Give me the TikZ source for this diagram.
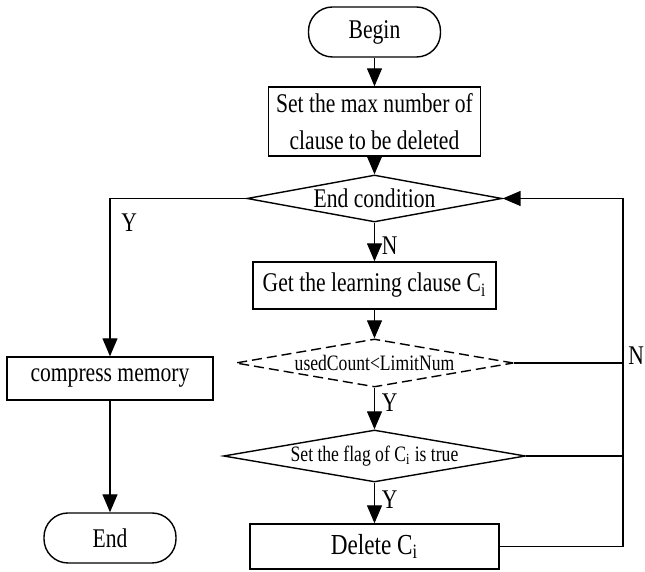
\documentclass[tikz,border=0pt]{standalone}
\usepackage{fontspec}
\setmainfont{Liberation Serif}[FakeStretch=0.8]
\usepackage{tikz}
\usetikzlibrary{arrows.meta,shapes.geometric}
\newcommand\flowfont{\fontsize{13.5}{18.5}\selectfont}
\newcommand\condfont{\fontsize{11}{13}\selectfont}

\begin{document}
\begin{tikzpicture}[x=0.5pt, y=-0.5pt, line width=0.7pt,
  term/.style={draw, rounded corners=12pt, minimum width=66pt, minimum height=25pt, font=\flowfont},
  proc/.style={draw, inner sep=0pt, font=\flowfont, align=center},
  cond/.style={draw, diamond, aspect=5.5, inner sep=0pt, font=\flowfont},
  arr/.style={-{Triangle[length=9pt,width=7.5pt]}},
  lbl/.style={font=\flowfont}
]
\useasboundingbox (0,0) rectangle (645,572);

% ---- main column ----
\node[term] (begin) at (374.5,32) {Begin};
\node[proc, minimum width=106pt, minimum height=34.5pt] (setmax) at (374.5,121.5) {Set the max number of\\clause to be deleted};
\node[cond, minimum width=127.5pt, minimum height=23.5pt] (endc) at (374.5,198.5) {End condition};
\node[proc, minimum width=121.5pt, minimum height=23.5pt] (getc) at (374.5,285.5) {Get the learning clause C\textsubscript{i}};
\node[cond, dashed, dash pattern=on 5pt off 2.5pt, minimum width=139pt, minimum height=24pt, font=\condfont] (used) at (374.5,363) {usedCount<LimitNum};
\node[cond, minimum width=151pt, minimum height=26pt, font=\condfont] (flag) at (374.5,456) {Set the flag of C\textsubscript{i} is true};
\node[proc, minimum width=124.5pt, minimum height=22.5pt, font=\fontsize{14.5}{17}\selectfont] (del) at (374.5,546.5) {Delete C\textsubscript{i}};

% ---- left exit ----
\node[proc, minimum width=103pt, minimum height=21.5pt] (comp) at (110,378.5) {compress memory};
\node[term] (endn) at (110,538) {End};

\coordinate (rail) at (623,0);

\draw[arr] (begin) -- (setmax);
\draw[arr] (setmax) -- (endc);
\draw[arr] (endc) -- (getc) node[lbl, pos=0.6, right]{N};
\draw[arr] (getc) -- (used);
\draw[arr] (used) -- (flag) node[lbl, pos=0.37, right]{Y};
\draw[arr] (flag) -- (del) node[lbl, pos=0.43, right]{Y};
\draw[arr] (endc.west) -| (comp.north) node[lbl, pos=0.575, right, xshift=2pt]{Y};
\draw[arr] (comp) -- (endn);

% ---- return rail on the right ----
\draw (used.east) -- (used.east -| rail) node[lbl, right, yshift=3.5pt, xshift=-1pt]{N};
\draw (flag.east) -- (flag.east -| rail);
\draw[arr] (del.east) -| (rail |- endc.east) -- (endc.east);

\end{tikzpicture}
\end{document}
